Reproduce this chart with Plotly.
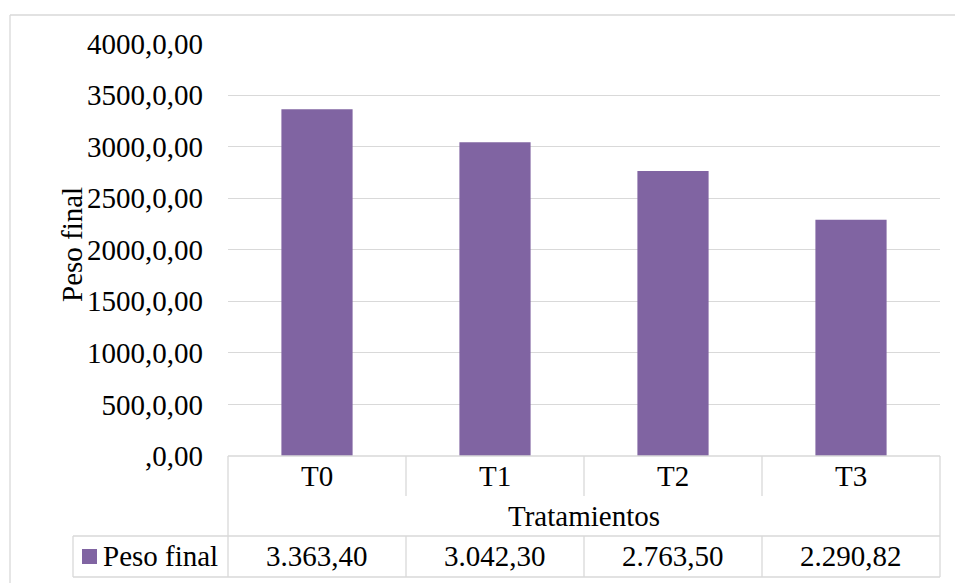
import plotly.graph_objects as go

# ---- data ----
categories = ["T0", "T1", "T2", "T3"]
peso_final = [3363.40, 3042.30, 2763.50, 2290.82]
series_name = "Peso final"
x_title = "Tratamientos"
y_title = "Peso final"
y_tickvals = [0, 500, 1000, 1500, 2000, 2500, 3000, 3500, 4000]
y_ticktext = [",0,00", "500,0,00", "1000,0,00", "1500,0,00", "2000,0,00",
              "2500,0,00", "3000,0,00", "3500,0,00", "4000,0,00"]

# ---- style / layout ----
W, H = 955, 583
BAR = "#8064A2"
GRID = "#D9D9D9"
FONT = "Liberation Serif"
FS = 29

PX0, PX1 = 228, 940          # plot area, left/right (px)
PY_TOP, PY_ZERO = 43.5, 456  # plot area, top/bottom (px)
ROW1, ROW2, ROW3 = 496, 536, 577   # data-table row boundaries (px)
LEG_X0 = 73                  # left edge of the legend cell (px)


def xp(px):
    return px / W


def yp(py):
    return 1 - py / H


def fmt(v):
    s = f"{v:,.2f}"
    return s.replace(",", "X").replace(".", ",").replace("X", ".")


fig = go.Figure()
fig.add_trace(go.Bar(
    x=categories, y=peso_final, name=series_name,
    marker=dict(color=BAR, line=dict(width=0)),
    showlegend=False,
))

line = dict(color=GRID, width=1.3)
shapes = []

# chart frame
shapes.append(dict(type="line", xref="paper", yref="paper",
                   x0=xp(10), x1=1.0, y0=yp(15), y1=yp(15), line=line))
shapes.append(dict(type="line", xref="paper", yref="paper",
                   x0=xp(10), x1=xp(10), y0=yp(15), y1=0, line=line))

# data table: horizontal rules
shapes.append(dict(type="line", xref="paper", yref="paper",
                   x0=xp(PX0), x1=xp(PX1), y0=yp(PY_ZERO), y1=yp(PY_ZERO), line=line))
for r in (ROW2, ROW3):
    shapes.append(dict(type="line", xref="paper", yref="paper",
                       x0=xp(LEG_X0), x1=xp(PX1), y0=yp(r), y1=yp(r), line=line))
# outer verticals
shapes.append(dict(type="line", xref="paper", yref="paper",
                   x0=xp(PX0), x1=xp(PX0), y0=yp(PY_ZERO), y1=yp(ROW3), line=line))
shapes.append(dict(type="line", xref="paper", yref="paper",
                   x0=xp(PX1), x1=xp(PX1), y0=yp(PY_ZERO), y1=yp(ROW3), line=line))
shapes.append(dict(type="line", xref="paper", yref="paper",
                   x0=xp(LEG_X0), x1=xp(LEG_X0), y0=yp(ROW2), y1=yp(ROW3), line=line))
# column separators between categories
for i in range(len(categories) - 1):
    for (a, b) in ((PY_ZERO, ROW1), (ROW2, ROW3)):
        shapes.append(dict(type="line", xref="x", yref="paper",
                           x0=i + 0.5, x1=i + 0.5, y0=yp(a), y1=yp(b), line=line))
# legend key
shapes.append(dict(type="rect", xref="paper", yref="paper",
                   x0=xp(82), x1=xp(97), y0=yp(549), y1=yp(564),
                   fillcolor=BAR, line=dict(width=0)))

font = dict(family=FONT, size=FS, color="#000000")
annotations = []
for c in categories:
    annotations.append(dict(xref="x", yref="paper", x=c, y=yp(476),
                            text=c, showarrow=False, font=font,
                            xanchor="center", yanchor="middle"))
annotations.append(dict(xref="paper", yref="paper", x=xp((PX0 + PX1) / 2), y=yp(516),
                        text=x_title, showarrow=False, font=font,
                        xanchor="center", yanchor="middle"))
for c, v in zip(categories, peso_final):
    annotations.append(dict(xref="x", yref="paper", x=c, y=yp(556),
                            text=fmt(v), showarrow=False, font=font,
                            xanchor="center", yanchor="middle"))
annotations.append(dict(xref="paper", yref="paper", x=xp(101), y=yp(556),
                        text=series_name, showarrow=False, font=font,
                        xanchor="left", yanchor="middle"))
annotations.append(dict(xref="paper", yref="paper", x=xp(72), y=yp(245),
                        text=y_title, showarrow=False, font=font, textangle=-90,
                        xanchor="center", yanchor="middle"))

fig.update_layout(
    width=W, height=H,
    margin=dict(l=0, r=0, t=0, b=0, autoexpand=False),
    paper_bgcolor="white", plot_bgcolor="white",
    bargap=0.6,
    shapes=shapes,
    annotations=annotations,
    xaxis=dict(domain=[xp(PX0), xp(PX1)], range=[-0.5, len(categories) - 0.5],
               showticklabels=False, showgrid=False, zeroline=False,
               showline=False, ticks="", automargin=False),
    yaxis=dict(domain=[yp(PY_ZERO), yp(PY_TOP)], range=[0, 4000],
               tickvals=y_tickvals, ticktext=y_ticktext,
               tickfont=font, ticklabelstandoff=24,
               showgrid=True, gridcolor=GRID, gridwidth=1.3,
               zeroline=False, showline=False, ticks="", automargin=False),
)

fig.write_html("out.html")
